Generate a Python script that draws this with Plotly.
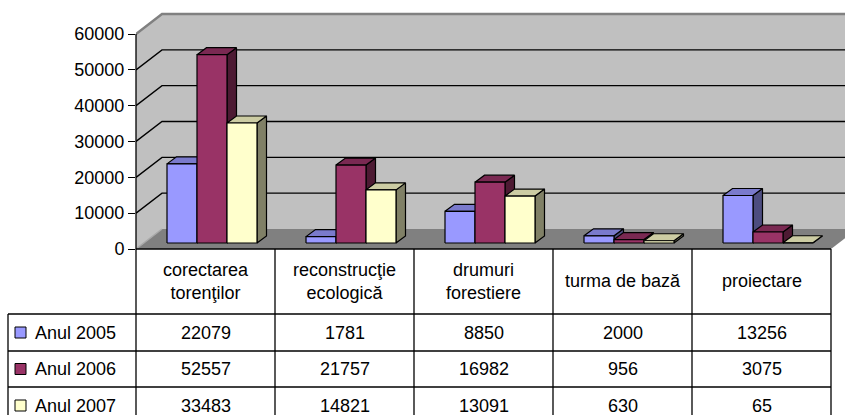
import plotly.graph_objects as go

# ---------------- data ----------------
categories = ["corectarea<br>torenţilor", "reconstrucţie<br>ecologică",
              "drumuri<br>forestiere", "turma de bază", "proiectare"]
series_names = ["Anul 2005", "Anul 2006", "Anul 2007"]
anul_2005 = [22079, 1781, 8850, 2000, 13256]
anul_2006 = [52557, 21757, 16982, 956, 3075]
anul_2007 = [33483, 14821, 13091, 630, 65]
y_ticks = [0, 10000, 20000, 30000, 40000, 50000, 60000]

series_values = [anul_2005, anul_2006, anul_2007]
front_colors = ["#9999FF", "#993366", "#FFFFCC"]
top_colors = ["#7A7ACC", "#7A2952", "#CCCCA3"]
side_colors = ["#4D4D80", "#4D1A33", "#808066"]

# ---------------- geometry (layout constants) ----------------
W, H = 845, 415
PLOT_L = 136          # left margin in px (front value axis)
CAT_W = 139           # width of one category in px
Y0_PX = 249           # pixel row of value 0 on the front plane
PX_PER_UNIT = 215 / 60000.0
FONT = "Liberation Sans, Arial, sans-serif"
FS = 18


def px_to_x(px):
    return (px - PLOT_L) / CAT_W - 0.5


def xu(dpx):
    return dpx / CAT_W


def vu(dpx):
    return dpx / PX_PER_UNIT


def pxx(px):  # paper x
    return (px - PLOT_L) / (W - PLOT_L)


def pxy(py):  # paper y
    return 1 - py / H


x_range = [px_to_x(PLOT_L), px_to_x(W)]
y_range = [-(H - Y0_PX) / PX_PER_UNIT, Y0_PX / PX_PER_UNIT]

n_cat = len(categories)
ymax = y_ticks[-1]
DX, DY = xu(26), vu(20)          # depth of the chart box
XL = -0.5
XR = n_cat - 0.5

fig = go.Figure()


def poly(xs, ys, fill, line_color="black", lw=1.2):
    fig.add_trace(go.Scatter(
        x=list(xs) + [xs[0]], y=list(ys) + [ys[0]], mode="lines",
        fill="toself", fillcolor=fill,
        line=dict(color=line_color, width=lw),
        hoverinfo="skip", showlegend=False, cliponaxis=True))


def line(xs, ys, color, lw):
    fig.add_trace(go.Scatter(
        x=xs, y=ys, mode="lines", line=dict(color=color, width=lw),
        hoverinfo="skip", showlegend=False, connectgaps=False))


# walls and floor
poly([XL, XL + DX, XL + DX, XL], [0, DY, ymax + DY, ymax], "#C0C0C0", "rgba(0,0,0,0)", 0)
poly([XL + DX, XR + DX, XR + DX, XL + DX], [DY, DY, ymax + DY, ymax + DY],
     "#C0C0C0", "rgba(0,0,0,0)", 0)
poly([XL, XL + DX, XR + DX, XR], [0, DY, DY, 0], "#808080", "rgba(0,0,0,0)", 0)

# gridlines
gx, gy = [], []
for v in y_ticks[1:-1]:
    gx += [XL, XL + DX, XR + DX, None]
    gy += [v, v + DY, v + DY, None]
line(gx, gy, "black", 1.4)
line([XL, XL + DX, XR + DX], [ymax, ymax + DY, ymax + DY], "#808080", 2.5)
line([XL, XL + DX], [0, DY], "#A8A8A8", 1.5)

# 3D columns
shift = xu(6.5)
bw = xu(30)
base = vu(6)
ddx, ddy = xu(9.5), vu(7)
for i in range(n_cat):
    for s, vals in enumerate(series_values):
        x0 = i + shift - 1.5 * bw + s * bw
        x1 = x0 + bw
        t = base + vals[i]
        poly([x1, x1 + ddx, x1 + ddx, x1], [base, base + ddy, t + ddy, t], side_colors[s])
        poly([x0, x1, x1 + ddx, x0 + ddx], [t, t, t + ddy, t + ddy], top_colors[s])
        poly([x0, x1, x1, x0], [base, base, t, t], front_colors[s])

# ---------------- table ----------------
shapes = []
BLK = dict(color="black", width=1.3)
col_edges = [PLOT_L + CAT_W * k for k in range(n_cat + 1)]
row_edges = [314, 351, 387, 424]
TABLE_L = 8
RIGHT = col_edges[-1]

# front axis line continuing as table border
shapes.append(dict(type="line", xref="paper", yref="paper",
                   x0=pxx(PLOT_L), x1=pxx(PLOT_L), y0=pxy(34), y1=pxy(H + 5), line=BLK))
# top of table (floor front edge)
shapes.append(dict(type="line", xref="paper", yref="paper",
                   x0=pxx(PLOT_L), x1=pxx(RIGHT), y0=pxy(Y0_PX), y1=pxy(Y0_PX), line=BLK))
for r in row_edges[:-1]:
    shapes.append(dict(type="line", xref="paper", yref="paper",
                       x0=pxx(TABLE_L), x1=pxx(RIGHT), y0=pxy(r), y1=pxy(r), line=BLK))
for c in col_edges[1:]:
    shapes.append(dict(type="line", xref="paper", yref="paper",
                       x0=pxx(c), x1=pxx(c), y0=pxy(Y0_PX), y1=pxy(H + 5), line=BLK))
shapes.append(dict(type="line", xref="paper", yref="paper",
                   x0=pxx(TABLE_L), x1=pxx(TABLE_L), y0=pxy(row_edges[0]), y1=pxy(H + 5), line=BLK))

annotations = []
for i, cat in enumerate(categories):
    annotations.append(dict(x=i, xref="x", y=pxy(281), yref="paper", text=cat,
                            showarrow=False, xanchor="center", yanchor="middle",
                            font=dict(family=FONT, size=FS, color="black")))

for s, name in enumerate(series_names):
    yc = (row_edges[s] + row_edges[s + 1]) / 2.0
    shapes.append(dict(type="rect", xref="paper", yref="paper",
                       x0=pxx(15), x1=pxx(26), y0=pxy(yc - 5.5), y1=pxy(yc + 5.5),
                       fillcolor=front_colors[s], line=dict(color="black", width=1)))
    annotations.append(dict(x=pxx(33), xref="paper", y=pxy(yc), yref="paper", text=name,
                            showarrow=False, xanchor="left", yanchor="middle",
                            font=dict(family=FONT, size=FS, color="black")))
    for i in range(n_cat):
        annotations.append(dict(x=i, xref="x", y=pxy(yc), yref="paper",
                                text=str(series_values[s][i]), showarrow=False,
                                xanchor="center", yanchor="middle",
                                font=dict(family=FONT, size=FS, color="black")))

fig.update_layout(
    width=W, height=H, autosize=False,
    margin=dict(l=PLOT_L, r=0, t=0, b=0, pad=0),
    paper_bgcolor="white", plot_bgcolor="white",
    showlegend=False,
    shapes=shapes, annotations=annotations,
    xaxis=dict(range=x_range, visible=False, fixedrange=True),
    yaxis=dict(range=y_range, tickvals=y_ticks, ticktext=[str(v) for v in y_ticks],
               ticks="outside", ticklen=7, tickwidth=1.3, tickcolor="black",
               showgrid=False, zeroline=False, showline=False,
               tickfont=dict(family=FONT, size=FS, color="black"), fixedrange=True),
)

fig.write_html("out.html", config={"displayModeBar": False},
               post_script="document.body.style.margin='0';document.body.style.overflow='hidden';")
